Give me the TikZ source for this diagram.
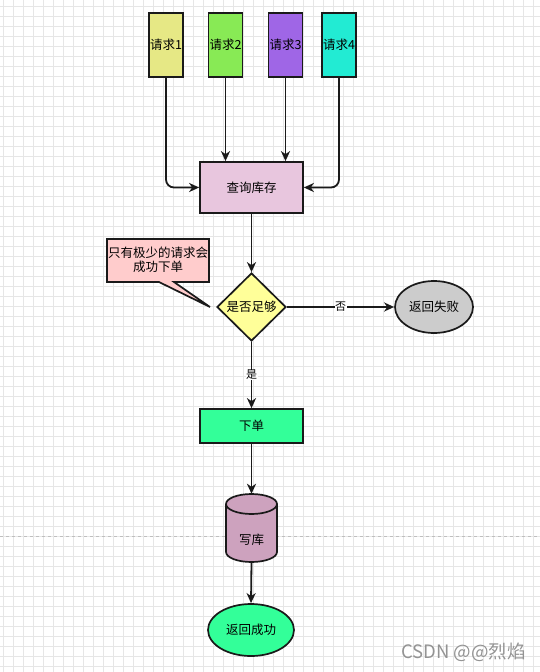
\documentclass[tikz,border=0pt]{standalone}
\usepackage{fontspec}
\newfontfamily\cjk{Noto Sans CJK SC}
\usetikzlibrary{shapes.geometric,arrows.meta}
\definecolor{cA}{HTML}{E6E885}
\definecolor{cB}{HTML}{88EA55}
\definecolor{cC}{HTML}{9F66E6}
\definecolor{cD}{HTML}{22EBD3}
\definecolor{cQ}{HTML}{E8C6DE}
\definecolor{cY}{HTML}{FFFF99}
\definecolor{cP}{HTML}{FFCCCC}
\definecolor{cG}{HTML}{CCCCCC}
\definecolor{cN}{HTML}{33FF99}
\definecolor{cK}{HTML}{CDA2BE}
\definecolor{gridc}{HTML}{E6E6E6}
\definecolor{edge}{HTML}{1A1A1A}
\tikzset{
  shp/.style={draw=edge, line width=1.7pt, inner sep=0pt, font=\cjk\fontsize{12.5}{14}\selectfont},
  req/.style={shp, rectangle, minimum width=34pt, minimum height=64pt},
  boxn/.style={shp, rectangle, minimum width=103pt},
  ell/.style={shp, ellipse},
  arr/.style={draw=edge, line width=1.8pt, -{Stealth[length=10pt,width=9pt,inset=3pt]}},
  lab/.style={fill=white, inner sep=0.5pt, font=\cjk\fontsize{11}{12}\selectfont}
}
\begin{document}
\begin{tikzpicture}[x=1pt,y=-1pt]
\useasboundingbox (0,0) rectangle (540,672);
\fill[white] (0,0) rectangle (540,672);
\foreach \i in {0,...,54} { \draw[gridc, line width=0.6pt] (\i*10+3,0) -- (\i*10+3,672); }
\foreach \j in {0,...,67} { \draw[gridc, line width=0.6pt] (0,\j*10+6) -- (540,\j*10+6); }
\draw[gray!50, line width=0.6pt, dash pattern=on 3pt off 3pt] (0,536) -- (540,536);

% requests
\node[req, fill=cA] (r1) at (166,45) {请求1};
\node[req, fill=cB] (r2) at (225.5,45) {请求2};
\node[req, fill=cC] (r3) at (285.5,45) {请求3};
\node[req, fill=cD] (r4) at (339,45) {请求4};

\node[boxn, fill=cQ, minimum height=51pt] (q) at (251.5,187.5) {查询库存};

\draw[arr, rounded corners=8pt] (r1.south) |- (q.west);
\draw[arr, rounded corners=8pt] (r4.south) |- (q.east);
\draw[arr] (r2.south) -- (r2.south |- q.north);
\draw[arr] (r3.south) -- (r3.south |- q.north);

\node[shp, diamond, fill=cY, minimum width=69pt, minimum height=68pt] (d) at (251.5,307) {是否足够};
\draw[arr] (q.south) -- (d.north);

% callout
\coordinate (tip) at (210,307);
\draw[draw=edge, line width=1.7pt, fill=cP, line join=miter]
  (107,239) -- (209,239) -- (209,282) -- (174,282) -- (tip) -- (159,282) -- (107,282) -- cycle;
\node[font=\cjk\fontsize{12.5}{13.5}\selectfont, align=center, inner sep=0pt] (note) at (158,260) {只有极少的请求会\\成功下单};

\node[ell, fill=cG, minimum width=78pt, minimum height=52pt] (fail) at (434,307) {返回失败};
\draw[arr] (d.east) -- (fail.west) node[lab, pos=0.5] {否};

\node[boxn, fill=cN, minimum height=34pt] (order) at (251.5,426) {下单};
\draw[arr] (d.south) -- (order.north) node[lab, pos=0.5] {是};

% cylinder
\node[minimum width=51pt, minimum height=68pt, inner sep=0pt] (db) at (251.5,528) {};
\fill[cK] (226,504) -- (226,552) arc[start angle=180,end angle=360,x radius=25.5pt,y radius=10pt]
  -- (277,504) arc[start angle=0,end angle=180,x radius=25.5pt,y radius=10pt] -- cycle;
\draw[draw=edge, line width=1.7pt] (226,504) -- (226,552) arc[start angle=180,end angle=360,x radius=25.5pt,y radius=10pt]
  -- (277,504) arc[start angle=0,end angle=180,x radius=25.5pt,y radius=10pt] -- cycle;
\draw[draw=edge, line width=1.7pt] (226,504) arc[start angle=180,end angle=360,x radius=25.5pt,y radius=10pt];
\node[font=\cjk\fontsize{12.5}{14}\selectfont, inner sep=0pt] (dbt) at (251.5,540) {写库};
\draw[arr] (order.south) -- (db.north);

\node[ell, fill=cN, minimum width=86pt, minimum height=52pt] (ok) at (251,630) {返回成功};
\draw[arr] (db.south) -- (ok.north);

\node[font=\cjk\fontsize{18.5}{20}\selectfont, text=gray!85, inner sep=0pt, anchor=east] (wm) at (526,652) {CSDN @@烈焰};
\end{tikzpicture}
\end{document}
